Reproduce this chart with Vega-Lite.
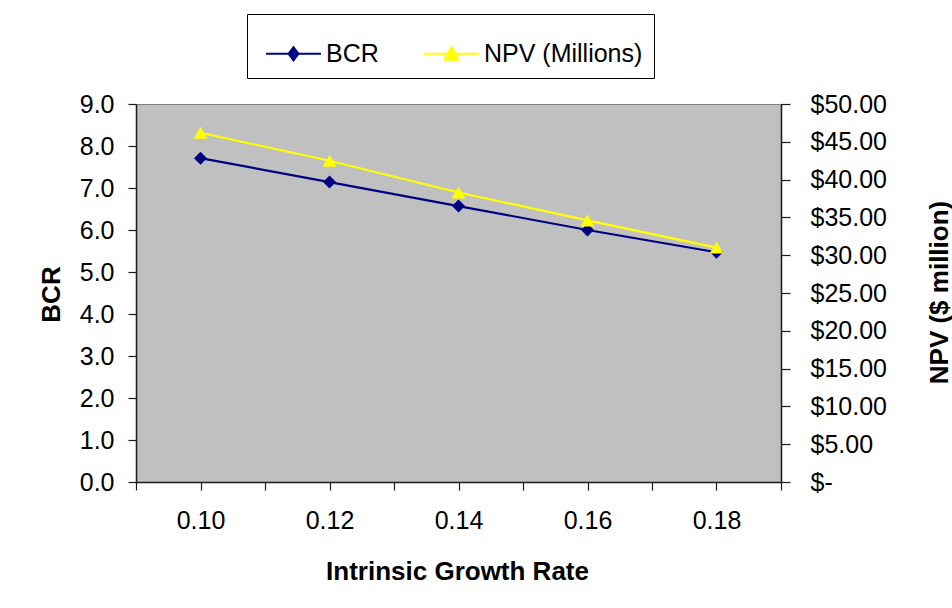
{
  "$schema": "https://vega.github.io/schema/vega-lite/v6.json",
  "width": 645,
  "height": 378,
  "autosize": {"type": "none"},
  "padding": {"left": 136, "top": 104, "right": 171, "bottom": 126},
  "background": "white",
  "config": {
    "view": {"fill": "#C0C0C0", "stroke": "#808080", "strokeWidth": 1},
    "font": "Liberation Sans",
    "axis": {
      "labelFont": "Liberation Sans",
      "labelFontSize": 25,
      "labelColor": "#000000",
      "titleFont": "Liberation Sans",
      "titleFontSize": 26,
      "titleFontWeight": "bold",
      "titleColor": "#000000",
      "domainColor": "#1a1a1a",
      "domainWidth": 1.5,
      "tickColor": "#1a1a1a",
      "tickWidth": 1.2,
      "grid": false
    }
  },
  "data": {
    "values": [
      {"rate": 0.10, "series": "BCR", "value": 7.71},
      {"rate": 0.12, "series": "BCR", "value": 7.14},
      {"rate": 0.14, "series": "BCR", "value": 6.57},
      {"rate": 0.16, "series": "BCR", "value": 6.00},
      {"rate": 0.18, "series": "BCR", "value": 5.47},
      {"rate": 0.10, "series": "NPV (Millions)", "value": 46.2},
      {"rate": 0.12, "series": "NPV (Millions)", "value": 42.5},
      {"rate": 0.14, "series": "NPV (Millions)", "value": 38.3},
      {"rate": 0.16, "series": "NPV (Millions)", "value": 34.6},
      {"rate": 0.18, "series": "NPV (Millions)", "value": 31.0}
    ]
  },
  "encoding": {
    "x": {
      "field": "rate",
      "type": "quantitative",
      "scale": {"domain": [0.09, 0.19], "nice": false, "zero": false},
      "axis": {
        "values": [0.09, 0.10, 0.11, 0.12, 0.13, 0.14, 0.15, 0.16, 0.17, 0.18, 0.19],
        "labelExpr": "round(datum.value*100) % 2 === 0 ? format(datum.value, '.2f') : ''",
        "tickSize": 8,
        "labelPadding": 18,
        "labelFlush": false,
        "labelOverlap": false,
        "title": "Intrinsic Growth Rate",
        "titleX": 321,
        "titleY": 89,
        "titleAlign": "center",
        "titleBaseline": "middle",
        "encode": {
          "ticks": {"update": {"y": {"value": -9}, "strokeOpacity": {"signal": "round(datum.value*100) % 2 === 1 ? 1 : 0"}}}
        }
      }
    },
    "color": {
      "field": "series",
      "type": "nominal",
      "scale": {"domain": ["BCR", "NPV (Millions)"], "range": ["#000080", "#FFFF00"]},
      "legend": {
        "orient": "none",
        "legendX": 111,
        "legendY": -90,
        "direction": "horizontal",
        "title": null,
        "padding": 11,
        "strokeColor": "#000000",
        "fillColor": "#ffffff",
        "labelFont": "Liberation Sans",
        "labelFontSize": 25,
        "labelColor": "#000000",
        "labelLimit": 400,
        "symbolSize": 3025,
        "symbolStrokeWidth": 2,
        "labelOffset": 4,
        "symbolOffset": 7,
        "columnPadding": 37,
        "encode": {
          "symbols": {
            "update": {
              "shape": {"signal": "datum.value === 'BCR' ? 'M-1,0H1M-0.18,0L0,-0.24L0.18,0L0,0.24Z' : 'M-1,0H1M-0.25,0.22L0,-0.24L0.25,0.22Z'"},
              "fill": {"scale": "color", "field": "value"},
              "stroke": {"scale": "color", "field": "value"},
              "strokeWidth": {"value": 2},
              "opacity": {"value": 1}
            }
          }
        }
      }
    }
  },
  "layer": [
    {
      "transform": [{"filter": "datum.series === 'BCR'"}],
      "encoding": {
        "y": {
          "field": "value",
          "type": "quantitative",
          "scale": {"domain": [0, 9], "nice": false},
          "axis": {
            "orient": "left",
            "values": [0, 1, 2, 3, 4, 5, 6, 7, 8, 9],
            "format": ".1f",
            "tickSize": 8,
            "labelPadding": 14,
            "labelFlush": false,
            "title": "BCR",
            "titleX": -85,
            "titleY": 190,
            "titleAngle": 270,
            "titleAlign": "center",
            "titleBaseline": "middle",
            "encode": {"ticks": {"update": {"x": {"value": 7}}}}
          }
        }
      },
      "layer": [
        {"mark": {"type": "line", "strokeWidth": 2.2}},
        {"mark": {"type": "point", "filled": true, "opacity": 1, "size": 169, "shape": "diamond"}}
      ]
    },
    {
      "transform": [{"filter": "datum.series === 'NPV (Millions)'"}],
      "encoding": {
        "y": {
          "field": "value",
          "type": "quantitative",
          "scale": {"domain": [0, 50], "nice": false},
          "axis": {
            "orient": "right",
            "values": [0, 5, 10, 15, 20, 25, 30, 35, 40, 45, 50],
            "labelExpr": "datum.value === 0 ? '$-' : '$' + format(datum.value, '.2f')",
            "tickSize": 9,
            "labelPadding": 20,
            "labelFlush": false,
            "title": "NPV ($ million)",
            "titleX": 158,
            "titleY": 188,
            "titleAngle": 270,
            "titleAlign": "center",
            "titleBaseline": "middle",
            "encode": {"ticks": {"update": {"x": {"value": -8}}}}
          }
        }
      },
      "layer": [
        {"mark": {"type": "line", "strokeWidth": 2.2}},
        {"mark": {"type": "point", "filled": true, "opacity": 1, "size": 190, "shape": "triangle-up"}}
      ]
    }
  ],
  "resolve": {"scale": {"y": "independent"}}
}
